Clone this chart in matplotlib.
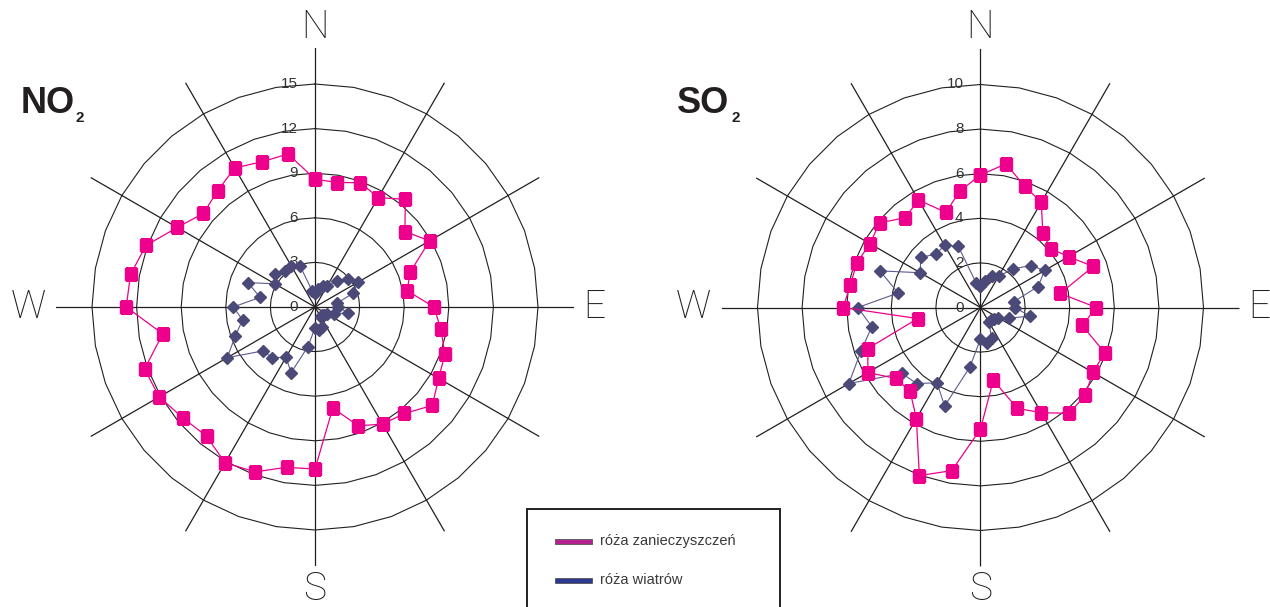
import numpy as np
import matplotlib.pyplot as plt
from matplotlib import transforms
from matplotlib.patches import Rectangle

# kierunki co 10 stopni, od N zgodnie z ruchem wskazówek zegara
directions = np.arange(0, 360, 10)

# róża zanieczyszczeń NO2
no2_rose = [8.6, 8.5, 8.9, 8.5, 9.45, 7.9, 8.9, 6.8, 6.3, 8.0,
            8.6, 9.3, 9.6, 10.3, 9.35, 9.1, 8.5, 6.9, 10.9, 10.95,
            11.8, 12.1, 11.35, 11.6, 12.1, 12.2, 10.4, 12.7, 12.6, 12.1,
            10.7, 9.8, 10.2, 10.8, 10.4, 10.45]

# róża zanieczyszczeń SO2
so2_rose = [5.94, 6.54, 5.79, 5.45, 4.35, 4.11, 4.56, 5.38, 3.63, 5.2,
            4.63, 5.93, 5.82, 6.13, 6.19, 5.45, 4.81, 3.31, 5.45, 7.43,
            8.02, 5.75, 4.91, 4.95, 5.83, 5.38, 2.86, 6.16, 5.92, 5.9,
            5.72, 5.91, 5.25, 5.57, 4.54, 5.31]

# róża wiatrów (ta sama dla obu wykresów)
wind_rose = [0.95, 1.22, 1.5, 1.62, 2.25, 2.93, 3.32, 2.75, 1.52, 1.55,
             2.25, 1.38, 0.9, 0.8, 0.72, 0.75, 1.45, 1.6, 1.4, 2.7,
             4.7, 3.9, 4.45, 4.6, 6.82, 5.7, 4.95, 5.5, 3.75, 4.8,
             3.12, 3.5, 3.12, 3.22, 2.92, 1.12]

no2_rings = [3, 6, 9, 12, 15]
so2_rings = [2, 4, 6, 8, 10]

compass = ['N', 'E', 'S', 'W']
legend_labels = ['róża zanieczyszczeń', 'róża wiatrów']

W, H = 1270, 607
ink = '#231f20'
pink = '#ec008c'
navy = '#4a4977'

fig = plt.figure(figsize=(12.7, 6.07), dpi=100)
fig.patch.set_facecolor('white')


def draw_rose(cx, cy, rings, pollution, name):
    rad = 259  # promień osi w pikselach
    ax = fig.add_axes([(cx - rad) / W, (H - cy - rad) / H, 2 * rad / W, 2 * rad / H],
                      projection='polar')
    ax.set_theta_zero_location('N')
    ax.set_theta_direction(-1)
    outer = rings[-1] * rad / 223
    ax.set_ylim(0, outer)
    ax.grid(False)
    ax.set_xticks([])
    ax.set_yticks([])
    ax.spines['polar'].set_visible(False)
    ax.patch.set_alpha(0)

    th = np.deg2rad(directions)
    th_c = np.append(th, th[0])

    # pierścienie siatki (wielokąty) i promienie co 30 stopni
    for v in rings:
        ax.plot(th_c, np.full(len(th_c), v), color=ink, lw=0.8, zorder=1)
    for a in range(0, 360, 30):
        ax.plot([np.deg2rad(a)] * 2, [0, outer], color=ink, lw=0.9, zorder=1)

    # etykiety skali
    off = transforms.offset_copy(ax.transData, fig=fig, x=-17, y=0, units='dots')
    for v in [0] + list(rings):
        ax.text(0, v, str(v), transform=off, ha='right', va='center',
                fontsize=11, color='#333333', family='Liberation Sans', zorder=2)

    # róża wiatrów
    ax.plot(th_c, np.append(wind_rose, wind_rose[0]), color='#5c5b8c', lw=0.8,
            marker='D', markersize=5.8, markerfacecolor=navy, markeredgecolor=navy,
            zorder=3)
    # róża zanieczyszczeń
    ax.plot(th_c, np.append(pollution, pollution[0]), color=pink, lw=0.9,
            marker='s', markersize=8, markerfacecolor=pink, markeredgecolor=pink,
            zorder=4)

    # oznaczenia kierunków
    dist = {'N': 280, 'E': 279, 'S': 282, 'W': 287}
    for k, lbl in enumerate(compass):
        ax.text(np.deg2rad(90 * k), outer * dist[lbl] / rad, lbl,
                ha='center', va='center', fontsize=28, color=ink,
                family=['Roboto', 'DejaVu Sans'], fontweight='light')

    # nazwa zanieczyszczenia z indeksem dolnym
    tx = cx - 294 if name == 'NO' else cx - 304
    fig.text(tx / W, (H - 113) / H, name, fontsize=26, fontweight='bold',
             family='Liberation Sans', color=ink, va='baseline')
    fig.text((tx + 55) / W, (H - 121.5) / H, '2', fontsize=11, fontweight='bold',
             family='Liberation Sans', color=ink, va='baseline')
    return ax


draw_rose(315, 307, no2_rings, no2_rose, 'NO')
draw_rose(980.5, 307.5, so2_rings, so2_rose, 'SO')

# legenda w ramce
fig.add_artist(Rectangle((527 / W, -0.05), (780 - 527) / W, (H - 509) / H + 0.05,
                         transform=fig.transFigure, fill=False, edgecolor=ink,
                         lw=1.4, clip_on=False))
legend_colors = ['#b5218e', '#2b3990']
for lbl, col, y in zip(legend_labels, legend_colors, [541, 580.5]):
    fig.add_artist(Rectangle((555 / W, (H - y - 2.5) / H), 37 / W, 5 / H,
                             transform=fig.transFigure, facecolor=col,
                             edgecolor='#555555', lw=0.6))
    fig.text(600 / W, (H - y) / H, lbl, fontsize=10.5, color='#3a3a3a',
             family='Liberation Sans', va='center', ha='left')

fig.savefig('out.png', dpi=100)
